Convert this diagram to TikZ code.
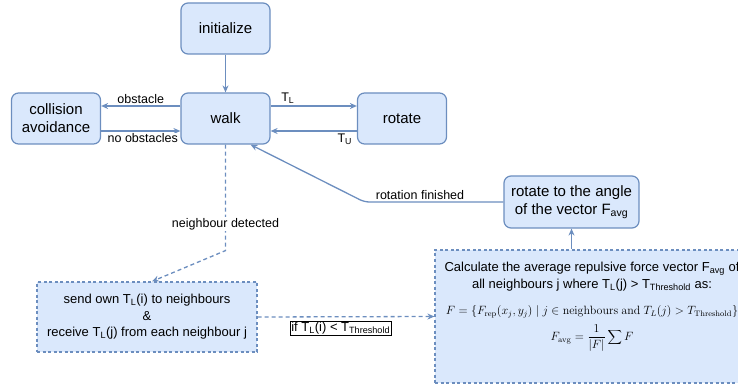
\documentclass[tikz,border=0pt]{standalone}
\usepackage[no-math]{fontspec}
\setmainfont{Liberation Sans}
\definecolor{boxfill}{HTML}{DAE8FC}
\definecolor{boxline}{HTML}{6C8EBF}
\usepackage{tikz}
\usetikzlibrary{arrows.meta, positioning, calc}
\tikzset{
    state/.style={rectangle, rounded corners=7pt, minimum width=89pt, minimum height=51pt, align=center, draw=boxline, fill=boxfill, line width=1.2pt, font=\fontsize{15}{18}\selectfont},
    task/.style={rectangle, draw=boxline, fill=boxfill, line width=1.2pt, dash pattern=on 3pt off 2.5pt, align=center, font=\fontsize{13}{16.5}\selectfont},
    arrow/.style={line width=1.3pt, draw=boxline, -{Stealth[length=7pt,width=6pt]}},
    dashedarrow/.style={arrow, dash pattern=on 4pt off 3pt},
    edgelabel/.style={font=\fontsize{12.5}{15}\selectfont, fill=white, inner sep=1pt},
    condlabel/.style={font=\fontsize{13}{15}\selectfont, draw=black, solid, line width=0.6pt, fill=white, inner sep=1pt}
}

\begin{document}
\begin{tikzpicture}[x=1pt, y=-1pt]
    \clip (0,0) rectangle (738,387);

    % States
    \node[state] (init) at (225.5, 28.5) {initialize};
    \node[state] (walk) at (225.5, 118.5) {walk};
    \node[state] (collision) at (56, 118.5) {collision\\avoidance};
    \node[state] (rotate) at (402, 118.5) {rotate};
    \node[state, minimum width=135pt, minimum height=52pt] (rotangle) at (571.5, 202) {rotate to the angle\\of the vector F\textsubscript{avg}};

    % Neighbour exchange
    \node[task, minimum width=220pt, minimum height=70pt] (exchange) at (147, 317) {send own T\textsubscript{L}(i) to neighbours\\\&\\receive T\textsubscript{L}(j) from each neighbour j};
    \node[task, minimum width=314pt, minimum height=133pt] (calc) at (592, 316.5) {};
    \node[font=\fontsize{13}{17}\selectfont, align=center] (calctext) at (592, 276.5) {Calculate the average repulsive force vector F\textsubscript{avg} of\\all neighbours j where T\textsubscript{L}(j) > T\textsubscript{Threshold} as:};
    \node[font=\fontsize{11.5}{14}\selectfont] (frep) at (592, 312) {$F = \{F_{\mathrm{rep}}(x_j, y_j) \mid j \in \mathrm{neighbours}\ \mathrm{and}\ T_L(j) > T_{\mathrm{Threshold}}\}$};
    \node[font=\fontsize{11.5}{14}\selectfont] (favg) at (592, 338) {$F_{\mathrm{avg}} = \displaystyle\frac{1}{|F|}\sum F$};

    % Arrows
    \draw[arrow] (init) -- (walk);
    \draw[arrow] ([yshift=12.5pt]walk.west) -- node[edgelabel, above=1pt] {obstacle} ([yshift=12.5pt]collision.east);
    \draw[arrow] ([yshift=-12.5pt]collision.east) -- node[edgelabel, below=1pt, xshift=2pt] {no obstacles} ([yshift=-12.5pt]walk.west);
    \draw[arrow] ([yshift=12.5pt]walk.east) -- node[edgelabel, above=1pt, pos=0.2] {T\textsubscript{L}} ([yshift=12.5pt]rotate.west);
    \draw[arrow] ([yshift=-12.5pt]rotate.west) -- node[edgelabel, below=1pt, pos=0.14] {T\textsubscript{U}} ([yshift=-12.5pt]walk.east);
    \draw[arrow, rounded corners=5pt] (rotangle.west) -- node[edgelabel, above=1pt, pos=0.6] {rotation finished} ++(-139,0) -- ([xshift=25pt]walk.south);
    \draw[dashedarrow] (walk.south) -- node[edgelabel, pos=0.75] {neighbour detected} ++(0,106) -- ([xshift=5pt]exchange.north);
    \draw[dashedarrow] (exchange.east) -- node[condlabel, below=4pt, pos=0.47] {if T\textsubscript{L}(i) < T\textsubscript{Threshold}} (calc.west);
    \draw[arrow] (rotangle.south |- calc.north) -- (rotangle.south);
\end{tikzpicture}
\end{document}
